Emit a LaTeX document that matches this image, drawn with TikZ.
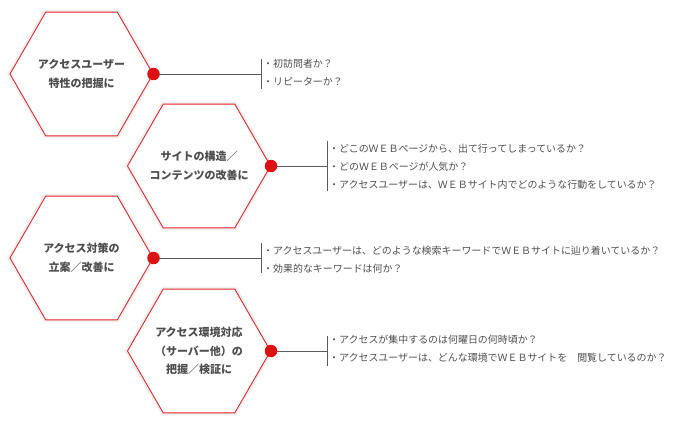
\documentclass[tikz,border=0pt]{standalone}
\usepackage{fontspec}
\setmainfont{Noto Sans CJK JP}
\usetikzlibrary{shapes.geometric}
\definecolor{hexred}{HTML}{E52626}
\definecolor{dotred}{HTML}{DD1111}
\definecolor{txt}{HTML}{4E4E4E}
\definecolor{lnc}{HTML}{5A5A5A}
\tikzset{
  hexa/.style={regular polygon, regular polygon sides=6, minimum size=143pt, inner sep=0pt,
    draw=hexred, line width=0.9pt, fill=white},
  hexshadow/.style={regular polygon, regular polygon sides=6, minimum size=146pt, inner sep=0pt,
    draw=black!6, line width=2.5pt},
  hexlabel/.style={align=center, text=txt, inner sep=0pt,
    font=\fontsize{11}{18.5}\selectfont\bfseries},
  dotc/.style={circle, fill=dotred, inner sep=0pt, minimum size=12.5pt},
  conn/.style={draw=lnc, line width=0.9pt},
  bar/.style={draw=lnc, line width=0.9pt},
  items/.style={anchor=west, align=left, text=txt, inner sep=0pt,
    font=\fontsize{9.95}{18}\selectfont}
}
\begin{document}
\begin{tikzpicture}[x=1pt,y=-1pt]
\useasboundingbox (0,0) rectangle (680,425);
% shadows
\node[hexshadow] (s1) at (81.5,74) {};
\node[hexshadow] (s2) at (199,166) {};
\node[hexshadow] (s3) at (81.5,258) {};
\node[hexshadow] (s4) at (199,351) {};
% hexagons
\node[hexa] (h1) at (81.5,74) {};
\node[hexa] (h2) at (199,166) {};
\node[hexa] (h3) at (81.5,258) {};
\node[hexa] (h4) at (199,351) {};
\node[hexlabel] (l1) at (h1.center) {アクセスユーザー\\特性の把握に};
\node[hexlabel] (l2) at (h2.center) {サイトの構造／\\コンテンツの改善に};
\node[hexlabel] (l3) at (h3.center) {アクセス対策の\\立案／改善に};
\node[hexlabel] (l4) at (h4.center) {アクセス環境対応\\（サーバー他）の\\把握／検証に};
% bar coordinates
\coordinate (b1) at (261,74);
\coordinate (b1t) at (261,59);
\coordinate (b1b) at (261,89);
\coordinate (b2) at (327,166);
\coordinate (b2t) at (327,141);
\coordinate (b2b) at (327,191);
\coordinate (b3) at (261,258);
\coordinate (b3t) at (261,243);
\coordinate (b3b) at (261,273);
\coordinate (b4) at (327,351);
\coordinate (b4t) at (327,336);
\coordinate (b4b) at (327,366);
% connectors
\draw[conn] (h1.east) -- (b1);
\draw[conn] (h2.east) -- (b2);
\draw[conn] (h3.east) -- (b3);
\draw[conn] (h4.east) -- (b4);
\draw[bar] (b1t) -- (b1b);
\draw[bar] (b2t) -- (b2b);
\draw[bar] (b3t) -- (b3b);
\draw[bar] (b4t) -- (b4b);
% dots
\node[dotc] (d1) at (h1.east) {};
\node[dotc] (d2) at (h2.east) {};
\node[dotc] (d3) at (h3.east) {};
\node[dotc] (d4) at (h4.east) {};
% items
\node[items] (t1) at (263,73) {・初訪問者か？\\・リピーターか？};
\node[items] (t2) at (329,167) {・どこのＷＥＢページから、出て行ってしまっているか？\\・どのＷＥＢページが人気か？\\・アクセスユーザーは、ＷＥＢサイト内でどのような行動をしているか？};
\node[items] (t3) at (263,260) {・アクセスユーザーは、どのような検索キーワードでＷＥＢサイトに辿り着いているか？\\・効果的なキーワードは何か？};
\node[items] (t4) at (329,349) {・アクセスが集中するのは何曜日の何時頃か？\\・アクセスユーザーは、どんな環境でＷＥＢサイトを　閲覧しているのか？};
\end{tikzpicture}
\end{document}
